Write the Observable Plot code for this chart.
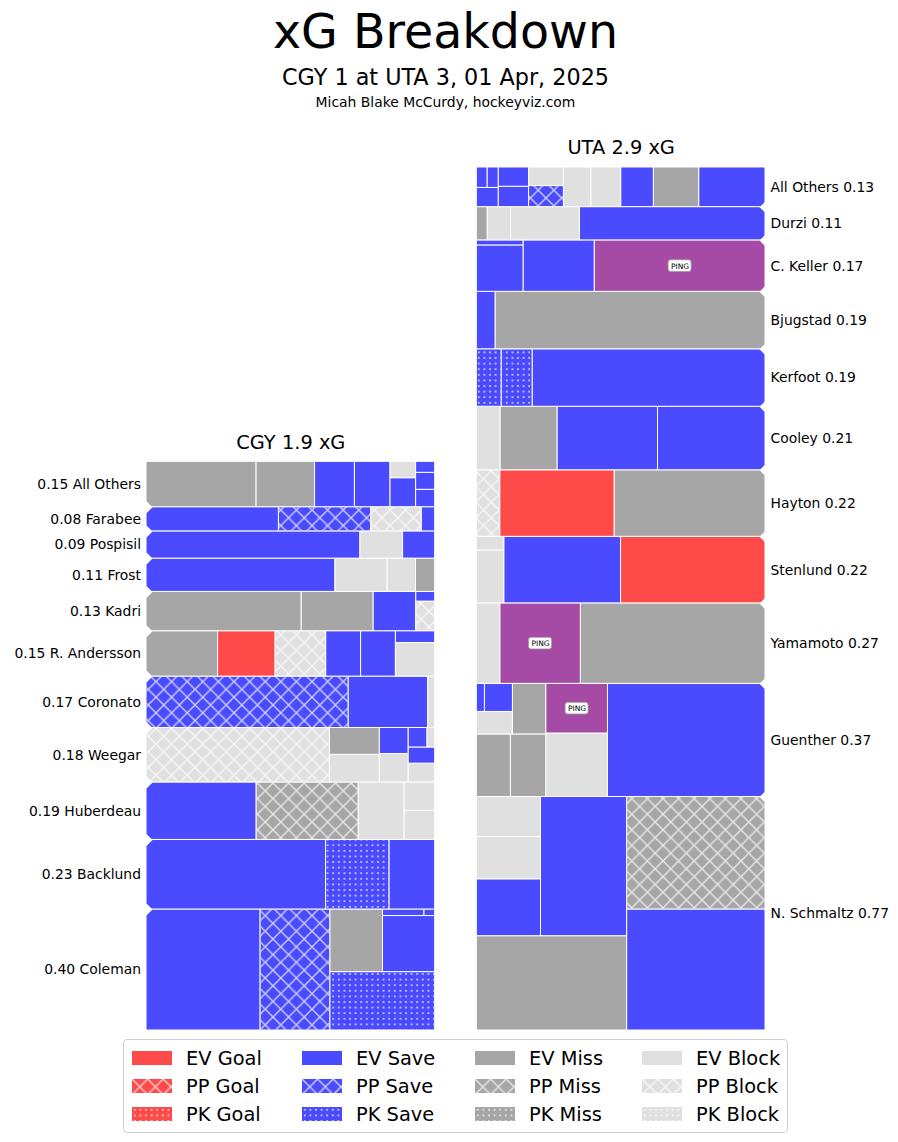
<!DOCTYPE html>
<html><head><meta charset="utf-8">
<script src="https://cdn.jsdelivr.net/npm/d3@7"></script>
<script src="https://cdn.jsdelivr.net/npm/@observablehq/plot@0.6"></script>
<style>
body{margin:0;background:#fff;font-family:"DejaVu Sans",sans-serif;}
#wrap{position:relative;width:898px;height:1142px;overflow:hidden;}
.t{position:absolute;left:0;width:891px;text-align:center;line-height:1;white-space:nowrap;color:#000;}
#chart{position:absolute;left:0;top:120px;}
#legend{position:absolute;left:123px;top:1039px;width:665px;height:94px;border:1px solid #d0d0d0;border-radius:4px;box-sizing:border-box;}
.li{position:absolute;height:24px;display:flex;align-items:center;font-size:19.4px;white-space:nowrap;}
.li svg{margin-right:14px;}
</style></head>
<body><div id="wrap">
<svg width="0" height="0" style="position:absolute"><defs>
<pattern id="hx" patternUnits="userSpaceOnUse" width="15.6" height="15.6">
<path d="M0,0L15.6,15.6M15.6,0L0,15.6M-2,13.6L2,17.6M13.6,-2L17.6,2M13.6,17.6L17.6,13.6M-2,2L2,-2" stroke="white" stroke-opacity="0.72" stroke-width="1.4" fill="none"/>
</pattern>
<pattern id="hd" patternUnits="userSpaceOnUse" width="5.6" height="5.6">
<circle cx="2.8" cy="2.8" r="0.95" fill="white" fill-opacity="0.85"/>
</pattern>
</defs></svg>
<div class="t" style="top:8px;font-size:47.5px;">xG Breakdown</div>
<div class="t" style="top:66px;font-size:22.3px;">CGY 1 at UTA 3, 01 Apr, 2025</div>
<div class="t" style="top:96px;font-size:13.9px;">Micah Blake McCurdy, hockeyviz.com</div>
<div id="chart"></div>
<div id="legend"></div>
</div>
<script>
// ---------------- DATA ----------------
const teamNames = ["CGY", "UTA"];

// rows listed top to bottom
const cgyPlayers = ["All Others","Farabee","Pospisil","Frost","Kadri","R. Andersson","Coronato","Weegar","Huberdeau","Backlund","Coleman"];
const cgyShots = [
  [["EV Miss",0.0572],["EV Miss",0.0304],["EV Save",0.0207],["EV Save",0.0185],["EV Save",0.0085],["EV Block",0.0048],["EV Save",0.0038],["EV Save",0.0037],["EV Save",0.0024]],
  [["EV Save",0.0367],["PP Save",0.0256],["PP Block",0.0140],["EV Save",0.0037]],
  [["EV Save",0.0667],["EV Block",0.0133],["EV Save",0.0100]],
  [["EV Save",0.0720],["EV Block",0.0199],["EV Block",0.0108],["EV Miss",0.0073]],
  [["EV Miss",0.0699],["EV Miss",0.0324],["EV Save",0.0192],["PP Block",0.0064],["EV Save",0.0021]],
  [["EV Miss",0.0372],["EV Goal",0.0299],["PP Block",0.0263],["EV Save",0.0181],["EV Save",0.0181],["EV Block",0.0151],["EV Save",0.0053]],
  [["PP Save",0.1191],["EV Save",0.0468],["EV Block",0.0041]],
  [["PP Block",0.1144],["EV Block",0.0158],["EV Miss",0.0153],["EV Block",0.0094],["EV Save",0.0086],["EV Block",0.0057],["EV Save",0.0049],["EV Save",0.0042],["EV Block",0.0017]],
  [["EV Save",0.0725],["PP Miss",0.0672],["EV Block",0.0302],["EV Block",0.0102],["EV Block",0.0099]],
  [["EV Save",0.1431],["PK Save",0.0506],["EV Save",0.0363]],
  [["EV Save",0.1581],["PP Save",0.0968],["PK Save",0.0700],["EV Miss",0.0377],["EV Save",0.0335],["EV Save",0.0031],["EV Save",0.0008]]
];

const utaPlayers = ["All Others","Durzi","C. Keller","Bjugstad","Kerfoot","Cooley","Hayton","Stenlund","Yamamoto","Guenther","N. Schmaltz"];
const utaShots = [
  [["EV Save",0.0301],["EV Miss",0.0206],["EV Save",0.0148],["EV Block",0.0136],["EV Block",0.0124],["PP Save",0.0084],["EV Block",0.0074],["EV Save",0.0071],["EV Save",0.0067],["EV Save",0.0048],["EV Save",0.0026],["EV Save",0.0025]],
  [["EV Save",0.0707],["EV Block",0.0263],["EV Block",0.0089],["EV Miss",0.0041]],
  [["PING",0.1006],["EV Save",0.0419],["EV Save",0.0248],["EV Save",0.0027]],
  [["EV Miss",0.1777],["EV Save",0.0123]],
  [["EV Save",0.1533],["PK Save",0.0204],["PK Save",0.0163]],
  [["EV Save",0.0782],["EV Save",0.0731],["EV Miss",0.0415],["EV Block",0.0172]],
  [["EV Miss",0.1150],["EV Goal",0.0872],["PP Block",0.0178]],
  [["EV Goal",0.1101],["EV Save",0.0890],["EV Block",0.0166],["EV Block",0.0043]],
  [["EV Miss",0.1702],["PING",0.0742],["EV Block",0.0216]],
  [["EV Save",0.2041],["EV Block",0.0449],["PING",0.0351],["EV Miss",0.0253],["EV Miss",0.0244],["EV Miss",0.0193],["EV Block",0.0093],["EV Save",0.0090],["EV Save",0.0026]],
  [["EV Save",0.1918],["PP Miss",0.1783],["EV Miss",0.1623],["EV Save",0.1373],["EV Save",0.0418],["EV Block",0.0310],["EV Block",0.0295]]
];

const strengths = ["EV","PP","PK"];
const outcomes = ["Goal","Save","Miss","Block"];
const outcomeColors = {Goal:"#ff4a4a", Save:"#4a4aff", Miss:"#a6a6a6", Block:"#e0e0e0", PING:"#a54aa5"};
const hatchFill = {PP:"url(#hx)", PK:"url(#hd)"};

// ---------------- LAYOUT ----------------
const W = 898, H = 914, mL = 146, mR = 133, mT = 47, mB = 4;
const GAP = 0.1443;          // gap between the two panels, in panel widths
const XMAX = 2 + GAP;
const teamTotals = [cgyShots, utaShots].map(t => d3.sum(t.flat(), d => d[1]));
const yMax = d3.max(teamTotals);

function layoutRects(sizes, x, y, dx, dy) {
  const covered = d3.sum(sizes);
  const out = [];
  if (dx >= dy) { const w = covered / dy; let yy = y; for (const s of sizes) { out.push({x, y: yy, dx: w, dy: s / w}); yy += s / w; } }
  else { const h = covered / dx; let xx = x; for (const s of sizes) { out.push({x: xx, y, dx: s / h, dy: h}); xx += s / h; } }
  return out;
}
function leftover(sizes, x, y, dx, dy) {
  const covered = d3.sum(sizes);
  if (dx >= dy) { const w = covered / dy; return [x + w, y, dx - w, dy]; }
  const h = covered / dx; return [x, y + h, dx, dy - h];
}
function worst(sizes, x, y, dx, dy) {
  return d3.max(layoutRects(sizes, x, y, dx, dy), r => Math.max(r.dx / r.dy, r.dy / r.dx));
}
function squarify(sizes, x, y, dx, dy) {
  if (!sizes.length) return [];
  if (sizes.length === 1) return layoutRects(sizes, x, y, dx, dy);
  let i = 1;
  while (i < sizes.length && worst(sizes.slice(0, i), x, y, dx, dy) >= worst(sizes.slice(0, i + 1), x, y, dx, dy)) i++;
  const cur = sizes.slice(0, i), rem = sizes.slice(i);
  const [lx, ly, ldx, ldy] = leftover(cur, x, y, dx, dy);
  return layoutRects(cur, x, y, dx, dy).concat(squarify(rem, lx, ly, ldx, ldy));
}

const shots = [], rows = [], notches = [], teams = [];
[[cgyPlayers, cgyShots], [utaPlayers, utaShots]].forEach(([players, shotLists], ti) => {
  const mirrored = ti === 1;          // UTA grows leftwards from its right edge
  const outer = mirrored ? XMAX : 0;
  let base = 0;
  for (let r = players.length - 1; r >= 0; r--) {
    const list = shotLists[r].slice().sort((a, b) => b[1] - a[1]);
    const total = d3.sum(list, d => d[1]);
    // treemap in data units: panel width 1, row height = player xG
    const rects = squarify(list.map(d => d[1]), 0, 0, 1, total);
    rects.forEach((q, i) => {
      const [type, xg] = list[i];
      const [str, out] = type === "PING" ? ["EV", "PING"] : type.split(" ");
      const a = q.x, b = q.x + q.dx;
      shots.push({
        team: teamNames[ti], player: players[r], type, xg, strength: str, outcome: out,
        x1: mirrored ? outer - b : outer + a, x2: mirrored ? outer - a : outer + b,
        y1: base + q.y, y2: base + q.y + q.dy
      });
    });
    rows.push({team: teamNames[ti], name: players[r], xg: total, x: outer, y: base + total / 2});
    if (r > 0) notches.push({x: outer, y: base + total});
    base += total;
  }
  teams.push({name: teamNames[ti], total: base, x: mirrored ? 1.5 + GAP : 0.5});
});

const f2 = d3.format(".2f"), f1 = d3.format(".1f");
const pings = shots.filter(d => d.outcome === "PING").map(d => ({x: (d.x1 + d.x2) / 2, y: (d.y1 + d.y2) / 2}));

const chart = Plot.plot({
  width: W, height: H, marginLeft: mL, marginRight: mR, marginTop: mT, marginBottom: mB,
  x: {domain: [0, XMAX], axis: null},
  y: {domain: [0, yMax], axis: null},
  color: {type: "identity"},
  style: {fontFamily: "DejaVu Sans", background: "transparent", color: "black"},
  marks: [
    Plot.rect(shots, {x1: "x1", x2: "x2", y1: "y1", y2: "y2", fill: d => outcomeColors[d.outcome], stroke: "white", strokeWidth: 1}),
    Plot.rect(shots.filter(d => d.strength !== "EV"), {x1: "x1", x2: "x2", y1: "y1", y2: "y2", fill: d => hatchFill[d.strength], inset: 0.5}),
    Plot.dot(notches, {x: "x", y: "y", symbol: d3.symbolDiamond2, r: 5.4, fill: "white", stroke: null}),
    Plot.rect(pings, {x1: "x", x2: "x", y1: "y", y2: "y", insetLeft: -11.5, insetRight: -11.5, insetTop: -5.8, insetBottom: -5.8, rx: 2.5, fill: "white", stroke: "#9a9a9a", strokeWidth: 0.8}),
    Plot.text(pings, {x: "x", y: "y", text: () => "PING", fontSize: 7.5, fill: "black", dy: 0.3}),
    Plot.text(rows.filter(d => d.team === "UTA"), {x: "x", y: "y", text: d => `${d.name} ${f2(d.xg)}`, textAnchor: "start", dx: 5, fontSize: 13.9, fill: "black"}),
    Plot.text(rows.filter(d => d.team === "CGY"), {x: "x", y: "y", text: d => `${f2(d.xg)} ${d.name}`, textAnchor: "end", dx: -5.5, fontSize: 13.9, fill: "black"}),
    Plot.text(teams, {x: "x", y: "total", text: d => `${d.name} ${f1(d.total)} xG`, dy: -19.5, fontSize: 19.4, fill: "black"})
  ]
});
document.getElementById("chart").appendChild(chart);

// ---------------- LEGEND ----------------
const legend = document.getElementById("legend");
const colLeft = [8, 178, 351, 518];
const rowMid = [18, 46, 74];
outcomes.forEach((o, ci) => {
  strengths.forEach((s, ri) => {
    const div = document.createElement("div");
    div.className = "li";
    div.style.left = colLeft[ci] + "px";
    div.style.top = (rowMid[ri] - 12) + "px";
    const hatch = s === "EV" ? "" : `<rect width="40" height="14" fill="${hatchFill[s]}"/>`;
    div.innerHTML = `<svg width="40" height="14"><rect width="40" height="14" fill="${outcomeColors[o]}"/>${hatch}</svg><span>${s} ${o}</span>`;
    legend.appendChild(div);
  });
});
</script>
</body></html>
